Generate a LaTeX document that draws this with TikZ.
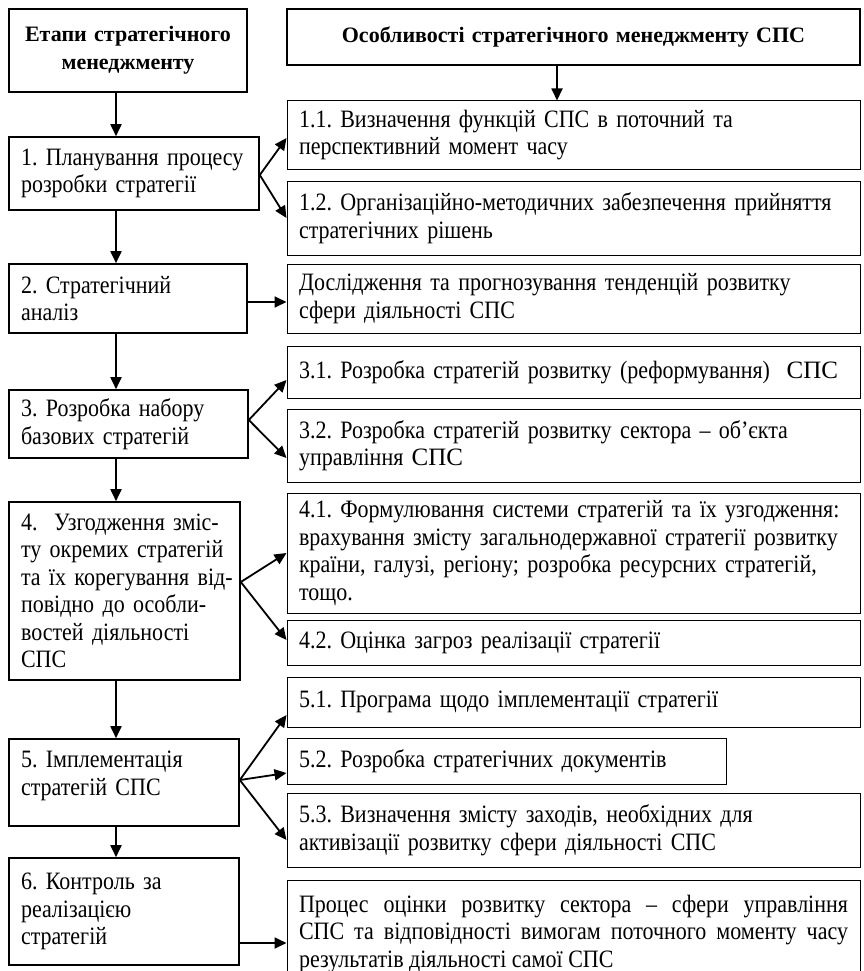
\documentclass[tikz,border=0pt]{standalone}
\usepackage{fontspec}
\setmainfont[FakeStretch=0.88]{Liberation Serif}
\newfontfamily\hfont{Liberation Serif}
\usetikzlibrary{arrows.meta}
\frenchspacing
\begin{document}
\begin{tikzpicture}[x=1pt,y=-1pt,
  every node/.style={font=\fontsize{25}{27.5}\selectfont},
  lbox/.style={draw, line width=1.6pt, inner xsep=12pt, inner ysep=0pt, align=left},
  hbox/.style={draw, line width=1.8pt, inner xsep=6pt, inner ysep=0pt, align=center, font=\hfont\fontsize{22}{28}\selectfont\bfseries},
  rbox/.style={draw, line width=1.0pt, inner xsep=12pt, inner ysep=0pt, align=left},
  arr/.style={line width=1.8pt, -{Triangle[length=12pt,width=11pt]}}]
\clip (0,0) rectangle (864,971);
% left column
\node[hbox, text width=226pt, minimum height=83pt] (hL) at (128,50.5) {Етапи стратегічного\\менеджменту};
\node[lbox, text width=226pt, minimum height=73pt] (b1) at (134,173.5) {1. Планування процесу\\розробки стратегії};
\node[lbox, text width=214pt, minimum height=69pt] (b2) at (128,298.5) {2. Стратегічний\\аналіз};
\node[lbox, text width=215pt, minimum height=68pt] (b3) at (128.5,424) {3. Розробка набору\\базових стратегій};
\node[lbox, text width=207pt, minimum height=178pt] (b4) at (124.5,591) {\mbox{4.\ \ Узгодження зміс-}\\\mbox{ту окремих стратегій}\\\mbox{та їх корегування від-}\\\mbox{повідно до особли-}\\\mbox{востей діяльності}\\СПС};
\node[lbox, text width=206pt, minimum height=87pt] (b5) at (124,782.5) {5. Імплементація\\стратегій СПС\\[-9pt]\mbox{}};
\node[lbox, text width=206pt, minimum height=107pt] (b6) at (124,911.5) {6. Контроль за\\реалізацією\\стратегій};
% right column
\node[hbox, text width=561pt, minimum height=56pt] (hR) at (573.5,37) {Особливості стратегічного менеджменту СПС\\[-6pt]};
\node[rbox, text width=549pt, minimum height=68pt] (r11) at (573.5,135) {1.1. Визначення функцій СПС в поточний та\\перспективний момент часу};
\node[rbox, text width=549pt, minimum height=74pt] (r12) at (573.5,218) {1.2. Організаційно-методичних забезпечення прийняття\\стратегічних рішень};
\node[rbox, text width=549pt, minimum height=69pt] (r2) at (573.5,298.5) {Дослідження та прогнозування тенденцій розвитку\\сфери діяльності СПС};
\node[rbox, text width=549pt, minimum height=52pt] (r31) at (573.5,372) {3.1. Розробка стратегій розвитку (реформування)\ \ {\hfont\fontsize{25}{27}\selectfont СПС}};
\node[rbox, text width=549pt, minimum height=73pt] (r32) at (573.5,445.5) {3.2. Розробка стратегій розвитку сектора – об’єкта\\управління {\hfont\fontsize{25}{27}\selectfont СПС}};
\node[rbox, text width=549pt, minimum height=120pt] (r41) at (573.5,553) {4.1. Формулювання системи стратегій та їх узгодження:\\врахування змісту загальнодержавної стратегії розвитку\\країни, галузі, регіону; розробка ресурсних стратегій,\\тощо.};
\node[rbox, text width=549pt, minimum height=45pt] (r42) at (573.5,642.5) {4.2. Оцінка загроз реалізації стратегії};
\node[rbox, text width=549pt, minimum height=50pt] (r51) at (573.5,702) {5.1. Програма щодо імплементації стратегії};
\node[rbox, text width=415pt, minimum height=46pt] (r52) at (506.5,761) {5.2. Розробка стратегічних документів};
\node[rbox, text width=549pt, minimum height=74pt] (r53) at (573.5,830) {5.3. Визначення змісту заходів, необхідних для\\активізації розвитку сфери діяльності СПС};
\node[rbox, text width=549pt, minimum height=108pt, align=justify] (r6) at (573.5,934) {Процес оцінки розвитку сектора – сфери управління\linebreak СПС та відповідності вимогам поточного моменту часу\linebreak результатів діяльності самої СПС};
% connector columns
\coordinate (cx) at (116,0);
\coordinate (ax) at (557,0);
\draw[arr] (hL.south -| cx) -- (b1.north -| cx);
\draw[arr] (b1.south -| cx) -- (b2.north -| cx);
\draw[arr] (b2.south -| cx) -- (b3.north -| cx);
\draw[arr] (b3.south -| cx) -- (b4.north -| cx);
\draw[arr] (b4.south -| cx) -- (b5.north -| cx);
\draw[arr] (b5.south -| cx) -- (b6.north -| cx);
\draw[arr] (hR.south -| ax) -- (r11.north -| ax);
% branches
\draw[arr] ([yshift=-1.5pt]b1.east) -- ([yshift=-3pt]r11.west);
\draw[arr] ([yshift=-1.5pt]b1.east) -- (r12.west);
\coordinate (s2) at ([yshift=-3.5pt]b2.east);
\draw[arr] (s2) -- (s2 -| r2.west);
\draw[arr] ([yshift=4pt]b3.east) -- ([yshift=-8pt]r31.west);
\draw[arr] ([yshift=4pt]b3.east) -- ([yshift=-12.5pt]r32.west);
\draw[arr] ([yshift=9pt]b4.east) -- (r41.west);
\draw[arr] ([yshift=9pt]b4.east) -- ([yshift=2.5pt]r42.west);
\draw[arr] ([yshift=2.5pt]b5.east) -- ([yshift=-13pt]r51.west);
\draw[arr] ([yshift=2.5pt]b5.east) -- ([yshift=-12pt]r52.west);
\draw[arr] ([yshift=2.5pt]b5.east) -- ([yshift=-10pt]r53.west);
\coordinate (s6) at ([yshift=-31.5pt]b6.east);
\draw[arr] (s6) -- (s6 -| r6.west);
\end{tikzpicture}
\end{document}
